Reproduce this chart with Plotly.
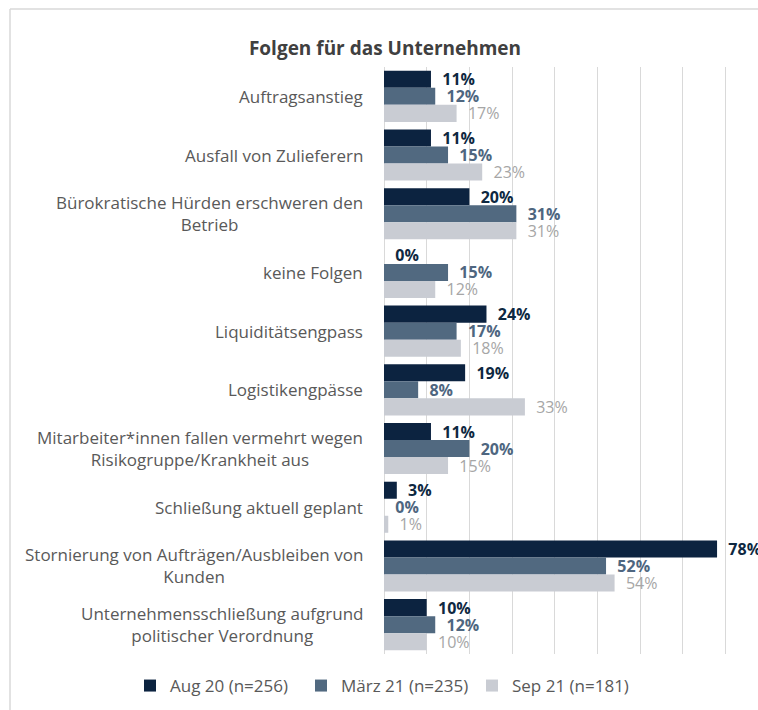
import plotly.graph_objects as go

categories = [
    "Auftragsanstieg",
    "Ausfall von Zulieferern",
    "Bürokratische Hürden erschweren den<br>Betrieb",
    "keine Folgen",
    "Liquiditätsengpass",
    "Logistikengpässe",
    "Mitarbeiter*innen fallen vermehrt wegen<br>Risikogruppe/Krankheit aus",
    "Schließung aktuell geplant",
    "Stornierung von Aufträgen/Ausbleiben von<br>Kunden",
    "Unternehmensschließung aufgrund<br>politischer Verordnung",
]
series_names = ["Aug 20 (n=256)", "März 21 (n=235)", "Sep 21 (n=181)"]
aug20 = [11, 11, 20, 0, 24, 19, 11, 3, 78, 10]
maerz21 = [12, 15, 31, 15, 17, 8, 20, 0, 52, 12]
sep21 = [17, 23, 31, 12, 18, 33, 15, 1, 54, 10]

bar_colors = ["#0c2340", "#516980", "#c9ccd3"]
label_colors = ["#0e2841", "#4e6680", "#a6a6a6"]
label_weights = ["bold", "bold", "normal"]

W, H = 758, 710
ML, MR, MT, MB = 384, 0, 67, 56
PW, PH = W - ML - MR, H - MT - MB

fig = go.Figure()
for name, vals, bc, lc, lw in zip(series_names, [aug20, maerz21, sep21], bar_colors, label_colors, label_weights):
    fig.add_trace(go.Bar(
        name=name,
        y=categories,
        x=vals,
        orientation="h",
        marker=dict(color=bc, line=dict(width=0)),
        text=["\u00a0\u00a0" + f"{v}%" for v in vals],
        textposition="outside",
        textfont=dict(family="Open Sans", size=16, color=lc, weight=lw),
        constraintext="none",
        cliponaxis=False,
        hoverinfo="skip",
    ))

annotations = []
for c in categories:
    annotations.append(dict(
        x=0, xref="paper", y=c, yref="y",
        text=c, showarrow=False,
        xanchor="right", yanchor="middle", align="center",
        xshift=-19,
        font=dict(family="Open Sans", size=17, color="#595959"),
    ))

def px_x(p):
    return (p - ML) / PW

def px_y(p):
    return (H - MB - p) / PH

shapes = [
    dict(type="line", xref="paper", yref="paper",
         x0=px_x(10), x1=px_x(10), y0=px_y(9), y1=px_y(712),
         line=dict(color="#d9d9d9", width=1.5)),
    dict(type="line", xref="paper", yref="paper",
         x0=px_x(10), x1=px_x(760), y0=px_y(9), y1=px_y(9),
         line=dict(color="#d9d9d9", width=1.5)),
]

fig.update_layout(
    width=W, height=H,
    margin=dict(l=ML, r=MR, t=MT, b=MB, pad=0),
    paper_bgcolor="white",
    plot_bgcolor="white",
    barmode="group",
    bargap=0.13,
    bargroupgap=0,
    title=dict(
        text="Folgen für das Unternehmen",
        x=385 / W, xanchor="center",
        y=1 - 48 / H, yanchor="middle",
        font=dict(family="Open Sans", size=19, color="#404040", weight="bold"),
    ),
    xaxis=dict(
        range=[0, PW / 4.27],
        dtick=10, tick0=0,
        showgrid=True, gridcolor="#d9d9d9", gridwidth=1,
        zeroline=True, zerolinecolor="#d9d9d9", zerolinewidth=1,
        showticklabels=False, showline=False, ticks="",
        fixedrange=True,
    ),
    yaxis=dict(
        autorange="reversed",
        showticklabels=False, showgrid=False, zeroline=False,
        showline=False, ticks="",
        fixedrange=True,
    ),
    legend=dict(
        orientation="h",
        x=px_x(130), xanchor="left",
        y=px_y(686), yanchor="middle",
        font=dict(family="Open Sans", size=17, color="#595959"),
        traceorder="normal",
        itemwidth=30,
        entrywidth=126, entrywidthmode="pixels",
    ),
    annotations=annotations,
    shapes=shapes,
    showlegend=True,
)

fig.write_html(
    "out.html",
    config={"displayModeBar": False},
    post_script="document.body.style.margin='0';document.body.style.overflow='hidden';",
)
